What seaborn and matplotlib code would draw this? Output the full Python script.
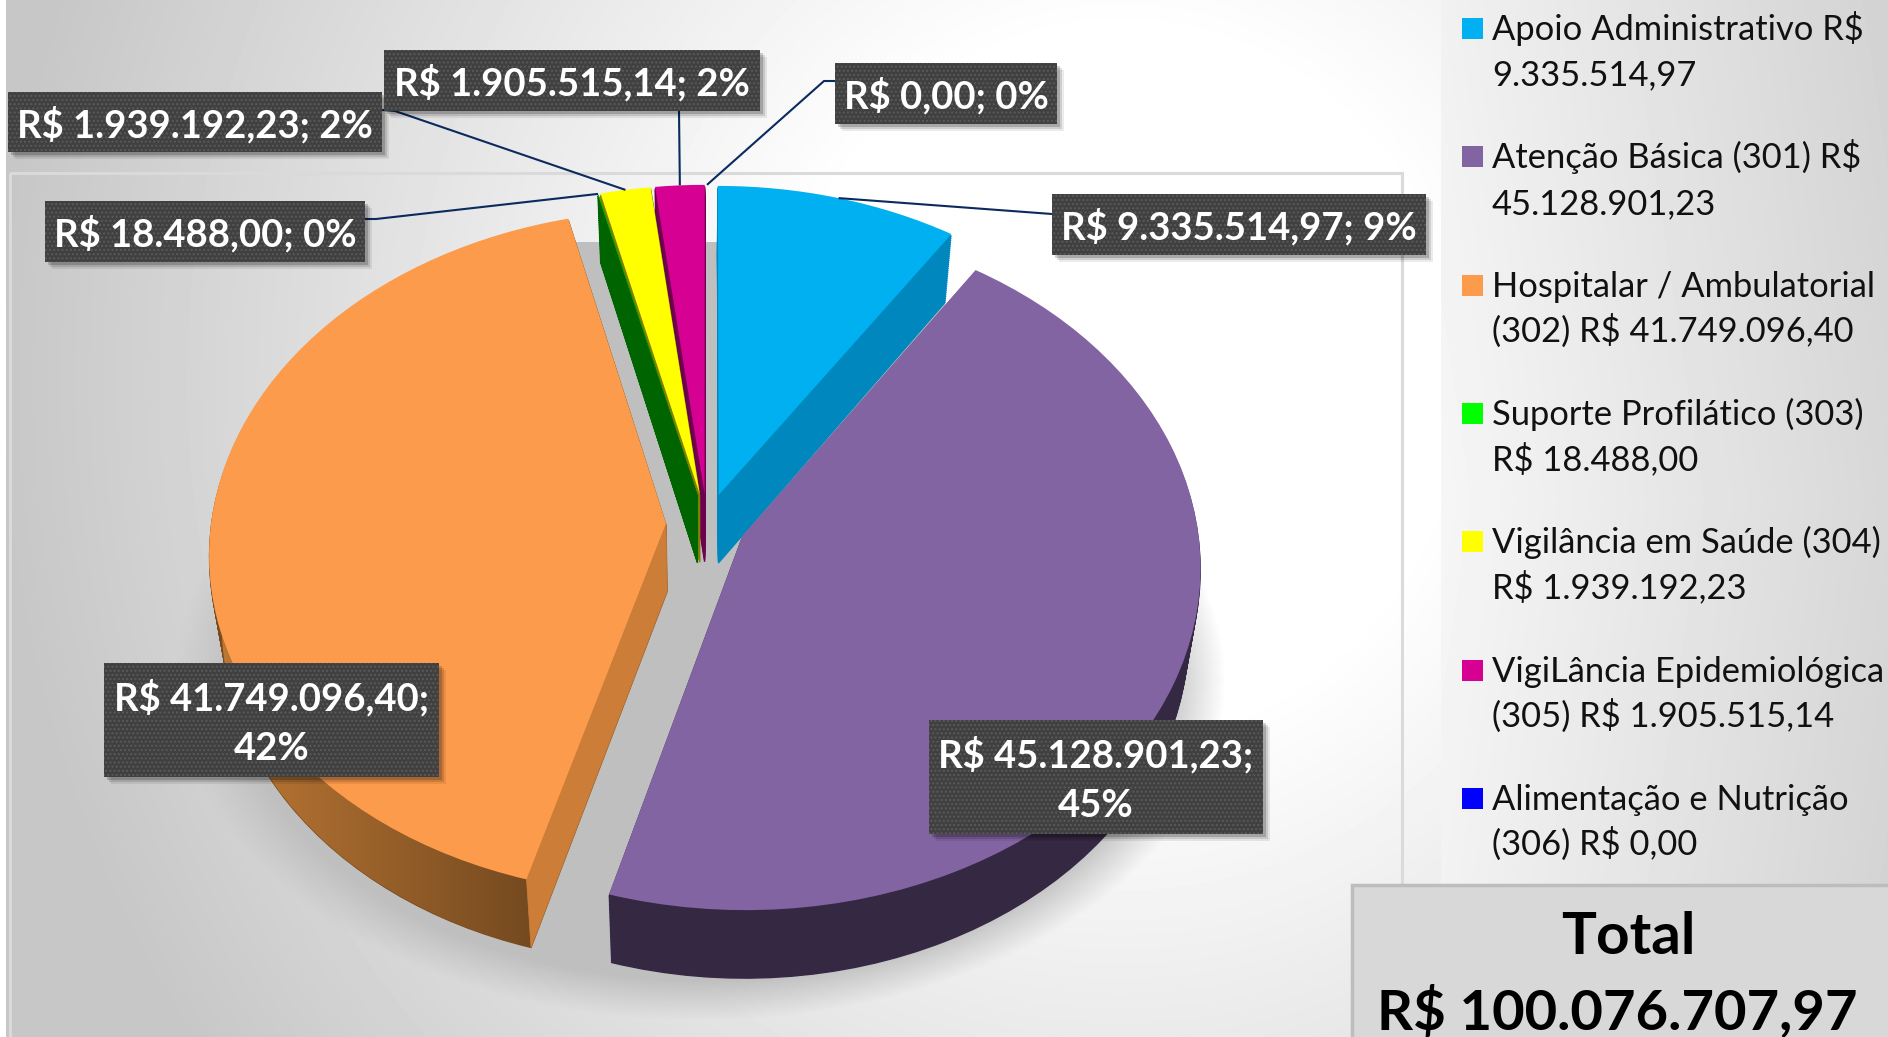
"""
Pizza 3D explodida das despesas por subfunção
"""
import matplotlib
matplotlib.use("Agg")
import matplotlib.pyplot as plt
from matplotlib.patches import Polygon, Rectangle
from matplotlib.transforms import Transform
import numpy as np
import seaborn as sns

categories = [
    "Apoio Administrativo", "Atenção Básica (301)", "Hospitalar / Ambulatorial (302)",
    "Suporte Profilático (303)", "Vigilância em Saúde (304)",
    "VigiLância Epidemiológica (305)", "Alimentação e Nutrição (306)",
]
values = [9335514.97, 45128901.23, 41749096.40, 18488.00, 1939192.23, 1905515.14, 0.00]
value_text = ["9.335.514,97", "45.128.901,23", "41.749.096,40", "18.488,00",
              "1.939.192,23", "1.905.515,14", "0,00"]
percent_text = ["9%", "45%", "42%", "0%", "2%", "2%", "0%"]
legend_lines = [
    "Apoio Administrativo R$\n9.335.514,97",
    "Atenção Básica (301) R$\n45.128.901,23",
    "Hospitalar / Ambulatorial\n(302) R$ 41.749.096,40",
    "Suporte Profilático (303)\nR$ 18.488,00",
    "Vigilância em Saúde (304)\nR$ 1.939.192,23",
    "VigiLância Epidemiológica\n(305) R$ 1.905.515,14",
    "Alimentação e Nutrição\n(306) R$ 0,00",
]
total_text = "R$ 100.076.707,97"

top_colors = ["#00B0F0", "#8364A3", "#FC9B4B", "#00FF00", "#FFFF00", "#D60093", "#0000FF"]
legend_colors = top_colors
wall_colors = ["#0088BE", "#352843", "#7A4A1C", "#006400", "#7F7F00", "#6E0050", "#000080"]
ORANGE_CUT = "#CC7E38"

W, H = 1888, 1037
CX, CY, RX, RY, TILT = 707, 524, 455, 340, 0.085
DEPTH, LEVELS, SHRINK = 68, 34, 0.025
EXPLODE = [0.09, 0.085, 0.09, 0.09, 0.09, 0.09, 0.09]

# caixa (x0, y0, x1, y1) de cada rótulo e cotovelo da linha guia
label_boxes = [
    (1052, 194, 1426, 255), (929, 720, 1263, 834), (104, 663, 439, 777),
    (45, 201, 365, 262), (8, 92, 382, 152), (384, 50, 760, 111), (835, 63, 1057, 124),
]
leader_starts = [
    (1052, 214), None, None, (365, 219), (382, 110), (679, 111), (835, 81),
]
leader_elbows = [None, None, None, (376, 219), (395, 111), None, (824, 81)]
draw_order = [0, 5, 4, 3, 2, 1]

sns.set_theme(style="white", font="Lato")


class Tilt(Transform):
    """Círculo unitário -> perspectiva em pixels, com profundidade dy."""
    input_dims = 2
    output_dims = 2

    def __init__(self, dy=0):
        super().__init__()
        self.dy = dy

    def transform_non_affine(self, xy):
        xy = np.asarray(xy, dtype=float)
        w = 1 + TILT * xy[:, 1]
        shrink = 1 - SHRINK * self.dy / DEPTH
        return np.column_stack([CX + shrink * RX * xy[:, 0] / w,
                                CY - RY * xy[:, 1] / w + self.dy])


def rim(wedge, theta, radius=1.0):
    t = np.radians(theta)
    return (wedge.center[0] + radius * np.cos(t), wedge.center[1] + radius * np.sin(t))


fig = plt.figure(figsize=(W / 100, H / 100), dpi=100)
ax = fig.add_axes([0, 0, 1, 1])


def draw_pie(dy, colors, base_z, lw):
    wedges, _ = ax.pie(values, colors=colors, startangle=90, counterclock=False,
                       explode=EXPLODE, radius=1, normalize=True,
                       wedgeprops={"linewidth": lw})
    for i, w in enumerate(wedges):
        w.set_transform(Tilt(dy) + ax.transData)
        w.set_edgecolor(colors[i])
        w.set_clip_on(False)
        w.set_visible(i in draw_order and values[i] > 0)
        if i in draw_order:
            w.set_zorder(10 + draw_order.index(i) * 200 + base_z)
    return wedges


for level in range(LEVELS, 0, -1):
    draw_pie(level * DEPTH / LEVELS, wall_colors, LEVELS - level, 1.0)
top = draw_pie(0, top_colors, LEVELS + 2, 0.0)

ax.set_aspect("auto")
ax.set_xlim(0, W)
ax.set_ylim(H, 0)
ax.set_axis_off()

# fundo em degradê
yy, xx = np.mgrid[0:H, 0:W]
dist = np.hypot(xx - 1120, (yy - 380) * 0.95)
bg = 1 - 0.22 * np.clip((dist - 330) / 790, 0, 1)
right = xx >= 1441
bg[right] = (0.965 - 0.12 * (xx[right] - 1441) / 447 - 0.02 * np.abs(yy[right] - 500) / 500)
bg[:, :6] = 1
ax.imshow(bg, cmap="gray", vmin=0, vmax=1, extent=(0, W, H, 0), zorder=0, aspect="auto")

# moldura interna
ax.add_patch(Rectangle((10, 173), 1392, 900, fc="none", ec="#DADADA", lw=2.2, zorder=1))

# sombra da pizza
d = np.hypot((xx - 700) / 525, (yy - 680) / 340)
alpha = np.clip((1.0 - d) / 0.12, 0, 1)
gap = (xx > 520) & (xx < 945) & (yy > 241) & (yy < 700)
alpha[gap] = 1
shadow = np.dstack([np.full_like(alpha, 0.75)] * 3 + [alpha])
ax.imshow(shadow, extent=(0, W, H, 0), zorder=2, aspect="auto")

# parede externa do setor laranja em degradê
o = top[2]
z_orange = 10 + draw_order.index(2) * 200
arc = np.array([rim(o, t) for t in np.linspace(o.theta1, o.theta2, 120)])
upper = Tilt(0).transform_non_affine(arc)
lower = Tilt(DEPTH).transform_non_affine(arc)
wall = Polygon(np.vstack([upper, lower[::-1]]), closed=True, transform=ax.transData)
orange_cmap = sns.blend_palette(["#C27B36", "#754A20"], as_cmap=True)
wall_img = ax.imshow(np.linspace(0, 1, 256)[None, :], cmap=orange_cmap, extent=(200, 530, 1000, 500),
                     zorder=z_orange + LEVELS, aspect="auto")
wall_img.set_clip_path(wall)

# face de corte do setor laranja
corner = rim(o, o.theta2)
a = Tilt(0).transform_non_affine(np.array([corner, o.center]))
b = Tilt(DEPTH).transform_non_affine(np.array([corner, o.center]))
ax.fill([a[0, 0], a[1, 0], b[1, 0], b[0, 0]], [a[0, 1], a[1, 1], b[1, 1], b[0, 1]],
        color=ORANGE_CUT, lw=0.5, zorder=z_orange + LEVELS + 1)

# rótulos de dados
for i, (x0, y0, x1, y1) in enumerate(label_boxes):
    if leader_starts[i] is not None:
        w = top[i]
        mid = (w.theta1 + w.theta2) / 2
        end = Tilt(0).transform_non_affine(np.array([rim(w, mid)]))[0]
        pts = [leader_starts[i]] + ([leader_elbows[i]] if leader_elbows[i] else []) + [tuple(end)]
        ax.plot(*zip(*pts), color="#0B2A5E", lw=1.5, zorder=2000, solid_capstyle="butt")
    for off, al in ((7, 0.08), (5, 0.12), (3, 0.18)):
        ax.add_patch(Rectangle((x0 + off, y0 + off), x1 - x0, y1 - y0, fc="black", alpha=al, lw=0, zorder=2001))
    ax.add_patch(Rectangle((x0, y0), x1 - x0, y1 - y0, fc="#404040", ec="#5A5A5A", hatch="....", lw=0, zorder=2002))
    sep = "\n" if y1 - y0 > 100 else " "
    ax.text((x0 + x1) / 2, (y0 + y1) / 2 + 2.5, f"R$ {value_text[i]};{sep}{percent_text[i]}",
            color="white", fontweight="bold", fontsize=27.5, ha="center", va="center",
            linespacing=1.58, zorder=2003)

# legenda
for i, txt in enumerate(legend_lines):
    y = 28 + i * 128.3
    ax.add_patch(Rectangle((1462, y - 10), 21, 21, fc=legend_colors[i], lw=0, zorder=5))
    for k, line in enumerate(txt.split("\n")):
        ax.text(1492, y + 12 + k * 45.5, line, fontsize=24.8, color="#111111", va="baseline", ha="left", zorder=5)

# total
ax.add_patch(Rectangle((1352, 885), 600, 200, fc="#D8D8D8", ec="#BDBDBD", lw=2.5, zorder=6))
ax.text(1628, 938, "Total", fontsize=42, fontweight="bold", color="black", ha="center", va="center", zorder=7)
ax.text(1617, 1011, total_text, fontsize=40.5, fontweight="bold", color="black", ha="center", va="center", zorder=7)

ax.set_xlim(0, W)
ax.set_ylim(H, 0)
fig.savefig("out.png", dpi=100)
